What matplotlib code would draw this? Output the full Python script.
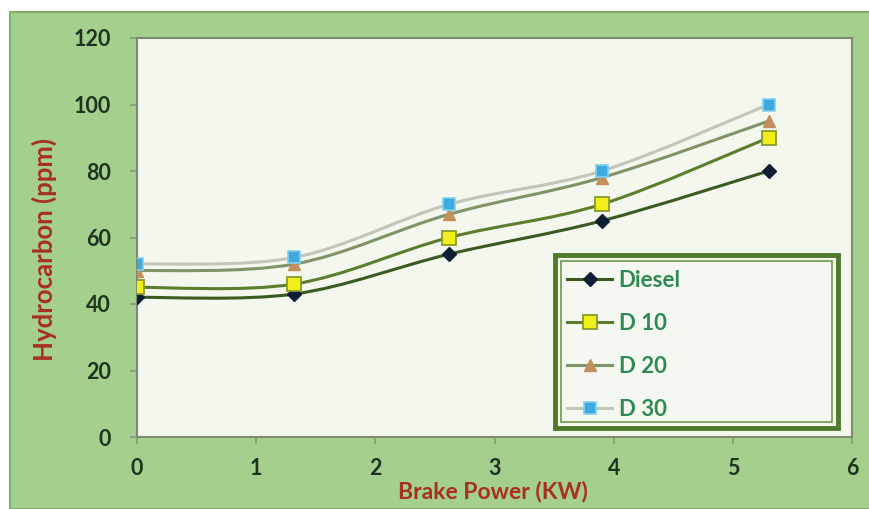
import numpy as np
import matplotlib
matplotlib.use("Agg")
import matplotlib.pyplot as plt
from matplotlib.path import Path
from matplotlib.patches import PathPatch, Rectangle
from matplotlib.lines import Line2D

# data
brake_power = [0, 1.32, 2.62, 3.9, 5.3]
diesel = [42, 43, 55, 65, 80]
d10 = [45, 46, 60, 70, 90]
d20 = [50, 52, 67, 78, 95]
d30 = [52, 54, 70, 80, 100]
labels = ["Diesel", "D 10", "D 20", "D 30"]

plt.rcParams['font.family'] = ['Lato', 'DejaVu Sans']


def smooth_path(xs, ys):
    # excel-like smoothed line, drawn as bezier segments through the points
    p = np.column_stack([xs, ys]).astype(float)
    ext = np.vstack([p[0], p, p[-1]])
    verts = [p[0]]
    codes = [Path.MOVETO]
    for i in range(len(p) - 1):
        p0, p1, p2, p3 = ext[i], ext[i + 1], ext[i + 2], ext[i + 3]
        c1 = p1 + (p2 - p0) / 6.0
        c2 = p2 - (p3 - p1) / 6.0
        verts += [c1, c2, p2]
        codes += [Path.CURVE4] * 3
    return Path(verts, codes)


fig = plt.figure(figsize=(8.69, 5.09), dpi=100, facecolor='white')

# green chart area with a white margin at top/left
bg = Rectangle((10 / 869, 0), 1, 1 - 12 / 509, transform=fig.transFigure,
               facecolor='#a4cf8c', edgecolor='#7fae68', linewidth=1.5, zorder=-5)
fig.patches.append(bg)

ax = fig.add_axes([137 / 869, 1 - 437 / 509, 715 / 869, 399 / 509])
ax.set_facecolor('#f3f7ee')

series = [
    (diesel, '#3b5a22', dict(marker='D', ms=7, mfc='#0f1d35', mec='#0f1d35')),
    (d10, '#5b7d2c', dict(marker='s', ms=10, mfc='#f2ee1a', mec='#8a9a2a', mew=1.3)),
    (d20, '#7f9468', dict(marker='^', ms=9, mfc='#c48f5a', mec='#c48f5a')),
    (d30, '#c2c6ba', dict(marker='s', ms=9, mfc='#3fa8dc', mec='#7fd0f0', mew=1.2)),
]

handles = []
for vals, col, mk in series:
    patch = PathPatch(smooth_path(brake_power, vals), facecolor='none',
                      edgecolor=col, linewidth=2.2, transform=ax.transData, zorder=2)
    ax.add_patch(patch)
    ax.plot(brake_power, vals, linestyle='none', zorder=3, **mk)
    handles.append(Line2D([], [], color=col, linewidth=2.2, **mk))

ax.set_xlim(0, 6)
ax.set_ylim(0, 120)
ax.set_xticks(range(0, 7))
ax.set_yticks(range(0, 121, 20))
ax.tick_params(axis='both', direction='out', length=5, width=1.2, color='#8a9a80',
               labelsize=15.5, labelcolor='#1e3420')
ax.tick_params(axis='y', pad=14)
ax.tick_params(axis='x', pad=10)
for t in ax.get_xticklabels() + ax.get_yticklabels():
    t.set_fontweight('bold')
for s in ax.spines.values():
    s.set_color('#7c8c6e')
    s.set_linewidth(1.5)

ax.set_xlabel('Brake Power (KW)', fontsize=16.5, fontweight='bold', color='#a8301f')
ax.xaxis.set_label_coords(0.498, -0.11)
ax.set_ylabel('Hydrocarbon (ppm)', fontsize=18.5, fontweight='bold', color='#a8301f')
ax.yaxis.set_label_coords(-0.112, 0.47)

# legend with double green frame
x0, y0 = (555 - 137) / 715, (437 - 428) / 399
w, h = (838 - 555) / 715, (428 - 255) / 399
ax.add_patch(Rectangle((x0, y0), w, h, transform=ax.transAxes, facecolor='#f4f8f0',
                       edgecolor='#4e7a2c', linewidth=3.5, zorder=5))
ax.add_patch(Rectangle((x0 + 0.008, y0 + 0.016), w - 0.016, h - 0.032, transform=ax.transAxes,
                       facecolor='none', edgecolor='#6e9a4c', linewidth=1.2, zorder=6))
leg = ax.legend(handles, labels, loc='upper left', bbox_to_anchor=(0.602, 0.418),
                frameon=False, fontsize=16, handlelength=2.0, handletextpad=0.3,
                labelspacing=0.98, borderpad=0, borderaxespad=0)
leg.set_zorder(7)
for t in leg.get_texts():
    t.set_color('#2c8a52')
    t.set_fontweight('bold')

fig.savefig('out.png', dpi=100, facecolor=fig.get_facecolor())
